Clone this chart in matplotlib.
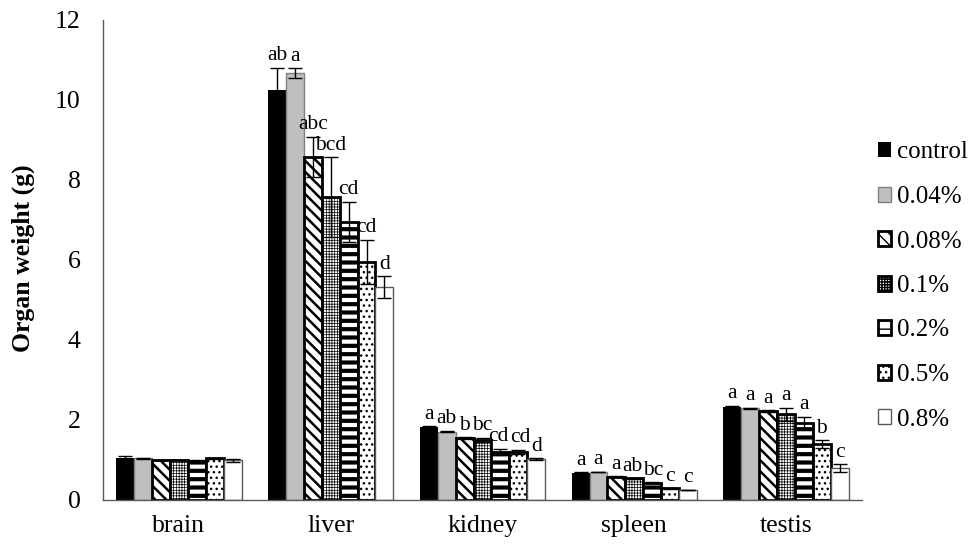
import numpy as np
import matplotlib
matplotlib.use('Agg')
import matplotlib.pyplot as plt

FONTSIZE = 18.5

plt.rcParams.update({
    "font.family": ["Liberation Serif", "DejaVu Serif"],
    "font.size": FONTSIZE,
    "xtick.labelsize": FONTSIZE,
    "ytick.labelsize": FONTSIZE,
})

# data
organs = ['brain', 'liver', 'kidney', 'spleen', 'testis']
groups = ['control', '0.04%', '0.08%', '0.1%', '0.2%', '0.5%', '0.8%']

brain = [1.05, 1.04, 1.00, 1.00, 0.98, 1.04, 0.99]
liver = [10.25, 10.67, 8.58, 7.57, 6.96, 5.96, 5.33]
kidney = [1.82, 1.71, 1.55, 1.50, 1.20, 1.21, 1.03]
spleen = [0.68, 0.70, 0.58, 0.54, 0.43, 0.29, 0.25]
testis = [2.33, 2.29, 2.22, 2.14, 1.93, 1.39, 0.80]

brain_err = [0.06, 0.02, 0.01, 0.01, 0.01, 0.01, 0.04]
liver_err = [0.56, 0.13, 0.50, 1.00, 0.50, 0.55, 0.27]
kidney_err = [0.03, 0.02, 0.02, 0.06, 0.08, 0.05, 0.02]
spleen_err = [0.01, 0.01, 0.01, 0.01, 0.01, 0.01, 0.01]
testis_err = [0.03, 0.02, 0.02, 0.17, 0.15, 0.10, 0.10]

brain_lbl = ['', '', '', '', '', '', '']
liver_lbl = ['ab', 'a', 'abc', 'bcd', 'cd', 'cd', 'd']
kidney_lbl = ['a', 'ab', 'b', 'bc', 'cd', 'cd', 'd']
spleen_lbl = ['a', 'a', 'a', 'ab', 'bc', 'c', 'c']
testis_lbl = ['a', 'a', 'a', 'a', 'a', 'b', 'c']

values = np.array([brain, liver, kidney, spleen, testis])
errors = np.array([brain_err, liver_err, kidney_err, spleen_err, testis_err])
letters = [brain_lbl, liver_lbl, kidney_lbl, spleen_lbl, testis_lbl]

# bar styles: (face, edge, edge lw, hatch, hatch lw)
styles = [
    ('black', 'black', 0.0, None, 1.0),
    ('#bfbfbf', '#7f7f7f', 1.0, None, 1.0),
    ('white', 'black', 2.0, '\\\\\\', 1.8),
    ('white', 'black', 2.0, '++++++', 0.5),
    ('white', 'black', 2.0, '--', 3.0),
    ('white', 'black', 2.0, '...', 1.0),
    ('white', '#595959', 1.0, None, 1.0),
]

# small horizontal nudges so neighbouring letters don't collide
nudge = {(2, 4): -0.016, (2, 5): 0.016, (3, 3): -0.01, (3, 4): 0.01}

fig = plt.figure(figsize=(9.76, 5.5), dpi=100)
ax = fig.add_axes([103/976, 50/550, (862-103)/976, 480/550])

x = np.arange(len(organs))
w = 0.118
for i, g in enumerate(groups):
    face, edge, elw, hatch, hlw = styles[i]
    with plt.rc_context({'hatch.linewidth': hlw, 'hatch.color': 'black'}):
        bars = ax.bar(x + (i - 3) * w, values[:, i], w, color=face, edgecolor=edge,
                      linewidth=elw, hatch=hatch, label=g, zorder=2)
        for b in bars:
            if hasattr(b, 'set_hatch_linewidth'):
                b.set_hatch_linewidth(hlw)
    ax.errorbar(x + (i - 3) * w, values[:, i], yerr=errors[:, i], fmt='none',
                ecolor='black', elinewidth=1, capsize=5, capthick=1, zorder=3)
    for j in range(len(organs)):
        if letters[j][i]:
            ax.text(x[j] + (i - 3) * w + nudge.get((j, i), 0),
                    values[j, i] + errors[j, i] + 0.06,
                    letters[j][i], ha='center', va='bottom', fontsize=15.5)

ax.set_xlim(-0.5, 4.5)
ax.set_ylim(0, 12)
ax.set_yticks(np.arange(0, 13, 2))
ax.set_xticks(x)
ax.set_xticklabels(organs)
ax.tick_params(length=0)
ax.tick_params(axis='y', pad=16)
ax.tick_params(axis='x', pad=11)
for s in ['top', 'right']:
    ax.spines[s].set_visible(False)
for s in ['left', 'bottom']:
    ax.spines[s].set_color('#595959')
    ax.spines[s].set_linewidth(1.0)
ax.set_ylabel('Organ weight (g)', fontweight='bold', fontsize=18.5)
ax.yaxis.set_label_coords(-0.09, 0.504)

fig.legend(loc='center left', bbox_to_anchor=(865/976, 0.48), frameon=False,
           borderpad=0, handlelength=0.55, handleheight=0.55, handletextpad=0.25,
           labelspacing=0.9, fontsize=18)

fig.savefig('out.png', dpi=100)
